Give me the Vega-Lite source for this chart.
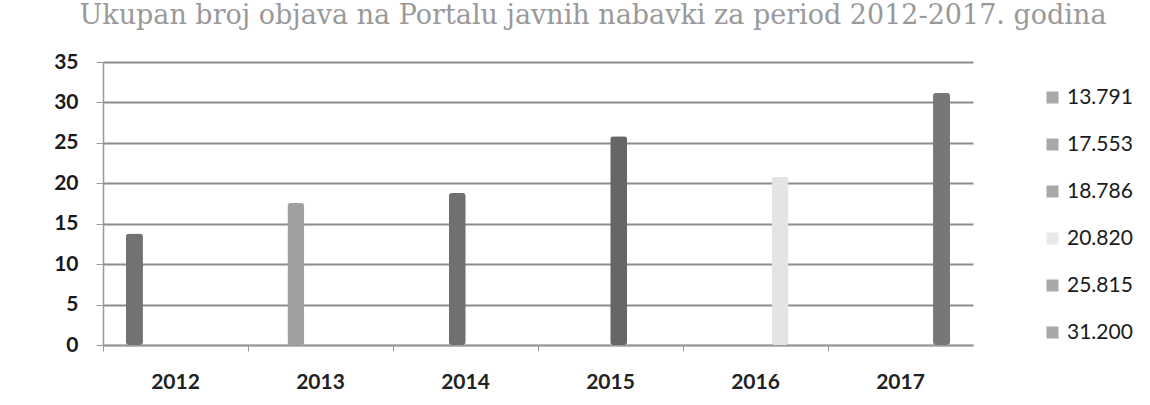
{
  "$schema": "https://vega.github.io/schema/vega-lite/v6.json",
  "autosize": "none",
  "width": 870,
  "height": 283,
  "padding": {"left": 103, "top": 62, "right": 177, "bottom": 60},
  "background": "white",
  "title": {
    "text": "Ukupan broj objava na Portalu javnih nabavki za period 2012-2017. godina",
    "font": "DejaVu Serif",
    "fontSize": 27,
    "fontWeight": "normal",
    "color": "#999999",
    "anchor": "middle",
    "offset": 21,
    "dx": 55
  },
  "data": {
    "values": [
      {"year": "2012", "value": 13.791, "label": "13.791"},
      {"year": "2013", "value": 17.553, "label": "17.553"},
      {"year": "2014", "value": 18.786, "label": "18.786"},
      {"year": "2015", "value": 25.815, "label": "25.815"},
      {"year": "2016", "value": 20.82, "label": "20.820"},
      {"year": "2017", "value": 31.2, "label": "31.200"}
    ]
  },
  "layer": [
    {
      "mark": {"type": "tick", "opacity": 0},
      "encoding": {
        "x": {
          "field": "year",
          "type": "ordinal",
          "title": null,
          "scale": {"paddingInner": 0, "paddingOuter": 0},
          "axis": {
            "labelAngle": 0,
            "labelFont": "Lato",
            "labelFontSize": 21,
            "labelFontWeight": "bold",
            "labelColor": "#222",
            "labelPadding": 20,
            "domainColor": "#999",
            "domainWidth": 1.5,
            "tickColor": "#999",
            "tickSize": 6,
            "bandPosition": 0,
            "grid": false
          }
        },
        "y": {
          "field": "value",
          "type": "quantitative",
          "title": null,
          "scale": {"domain": [0, 35]},
          "axis": {
            "values": [0, 5, 10, 15, 20, 25, 30, 35],
            "labelFont": "Lato",
            "labelFontSize": 21,
            "labelFontWeight": "bold",
            "labelColor": "#1a1a1a",
            "labelPadding": 18,
            "domainColor": "#999",
            "domainWidth": 1.5,
            "tickColor": "#999",
            "tickSize": 7,
            "gridColor": "#8c8c8c",
            "gridWidth": 2
          }
        },
        "color": {
          "field": "label",
          "type": "nominal",
          "title": null,
          "scale": {
            "domain": ["13.791", "17.553", "18.786", "20.820", "25.815", "31.200"],
            "range": ["#a8a8a8", "#a8a8a8", "#a8a8a8", "#e8e8e8", "#a8a8a8", "#a8a8a8"]
          },
          "legend": {
            "orient": "none",
            "legendX": 939,
            "legendY": 25,
            "symbolType": "square",
            "symbolSize": 144,
            "symbolOpacity": 1,
            "symbolStrokeWidth": 0,
            "labelFont": "Lato",
            "labelFontSize": 21,
            "labelColor": "#1a1a1a",
            "rowPadding": 25,
            "labelOffset": 4
          }
        }
      }
    },
    {
      "mark": {"type": "bar", "size": 17, "cornerRadius": 3},
      "encoding": {
        "x": {
          "field": "year",
          "type": "ordinal",
          "scale": {"paddingInner": 0.61, "paddingOuter": 0},
          "axis": null
        },
        "y": {"field": "value", "type": "quantitative"},
        "fill": {
          "field": "year",
          "type": "nominal",
          "scale": {
            "domain": ["2012", "2013", "2014", "2015", "2016", "2017"],
            "range": ["#727272", "#a0a0a0", "#707070", "#666666", "#e4e4e4", "#777777"]
          },
          "legend": null
        }
      }
    }
  ],
  "resolve": {"scale": {"x": "independent"}},
  "config": {"view": {"stroke": null}}
}
